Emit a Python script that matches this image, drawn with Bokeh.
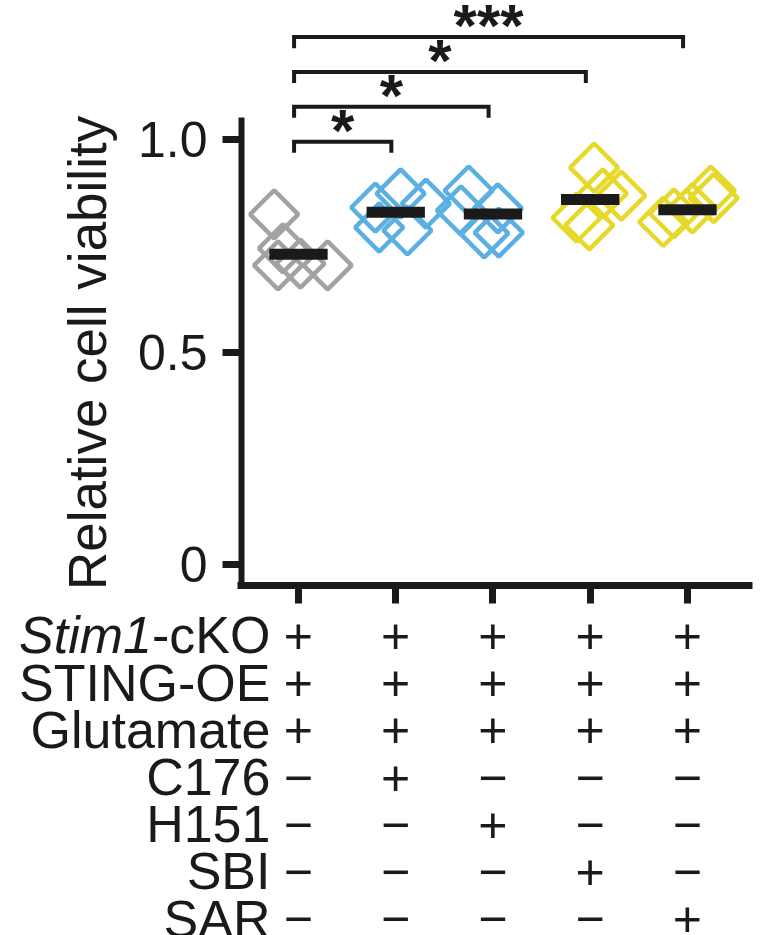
import math
from bokeh.plotting import figure
from bokeh.models import Range1d, LinearAxis, FixedTicker, ColumnDataSource
from bokeh.core.properties import value
from bokeh.embed import file_html
from bokeh.resources import INLINE

# ---------------- data ----------------
groups = [1, 2, 3, 4, 5]
group_colors = ["#a2a2a2", "#5cafe2", "#5cafe2", "#e6d92a", "#e6d92a"]

viab_g1 = [0.824, 0.744, 0.704, 0.708, 0.704]
viab_g2 = [0.840, 0.873, 0.849, 0.793, 0.786]
viab_g3 = [0.880, 0.833, 0.838, 0.781, 0.779]
viab_g4 = [0.934, 0.868, 0.816, 0.798, 0.873]
viab_g5 = [0.880, 0.862, 0.838, 0.826, 0.806]
group_values = [viab_g1, viab_g2, viab_g3, viab_g4, viab_g5]

jitter_g1 = [-0.25, -0.16, -0.21, 0.02, 0.30]
jitter_g2 = [-0.21, 0.05, 0.31, -0.17, 0.12]
jitter_g3 = [-0.25, -0.33, 0.05, 0.06, -0.09]
jitter_g4 = [0.04, 0.32, -0.14, -0.01, 0.13]
jitter_g5 = [0.24, 0.27, 0.05, -0.14, -0.25]
group_jitter = [jitter_g1, jitter_g2, jitter_g3, jitter_g4, jitter_g5]

group_means = [0.730, 0.829, 0.825, 0.859, 0.835]

y_ticks = [0, 0.5, 1.0]
y_tick_labels = ["0", "0.5", "1.0"]

sig_pairs = [(1, 2), (1, 3), (1, 4), (1, 5)]
sig_labels = ["*", "*", "*", "***"]

row_labels = ["Stim1-cKO", "STING-OE", "Glutamate", "C176", "H151", "SBI", "SAR"]
treatments = [
    ["+", "+", "+", "+", "+"],
    ["+", "+", "+", "+", "+"],
    ["+", "+", "+", "+", "+"],
    ["\u2212", "+", "\u2212", "\u2212", "\u2212"],
    ["\u2212", "\u2212", "+", "\u2212", "\u2212"],
    ["\u2212", "\u2212", "\u2212", "+", "\u2212"],
    ["\u2212", "\u2212", "\u2212", "\u2212", "+"],
]

# ---------------- layout ----------------
W, H = 767, 935
FONT = value("Liberation Sans")
INK = "#1a1a1a"

p = figure(width=W, height=H,
           x_range=Range1d(-2.064, 5.823), y_range=Range1d(-0.8729, 1.3271),
           x_axis_type=None, y_axis_type=None,
           output_backend="svg", toolbar_location=None,
           min_border=0, outline_line_color=None)
p.background_fill_color = "white"
p.border_fill_color = "white"

# y axis
yaxis = LinearAxis(fixed_location=0.414, bounds=(-0.056, 1.052),
                   ticker=FixedTicker(ticks=y_ticks),
                   major_label_overrides={t: s for t, s in zip(y_ticks, y_tick_labels)})
yaxis.axis_line_width = 6
yaxis.axis_line_color = INK
yaxis.major_tick_line_width = 7
yaxis.major_tick_line_color = INK
yaxis.major_tick_out = 19
yaxis.major_tick_in = 0
yaxis.minor_tick_line_color = None
yaxis.major_label_text_font = "Liberation Sans"
yaxis.major_label_text_font_size = "50px"
yaxis.major_label_text_color = INK
yaxis.major_label_standoff = 15
yaxis.axis_label = "Relative cell viability"
yaxis.axis_label_text_font = "Liberation Sans"
yaxis.axis_label_text_font_size = "53px"
yaxis.axis_label_text_font_style = "normal"
yaxis.axis_label_text_color = INK
yaxis.axis_label_standoff = 18
p.add_layout(yaxis, "left")

# x axis
xaxis = LinearAxis(fixed_location=-0.049, bounds=(0.3728, 5.668),
                   ticker=FixedTicker(ticks=groups))
xaxis.axis_line_width = 7
xaxis.axis_line_color = INK
xaxis.major_tick_line_width = 7
xaxis.major_tick_line_color = INK
xaxis.major_tick_out = 18
xaxis.major_tick_in = 0
xaxis.minor_tick_line_color = None
xaxis.major_label_text_alpha = 0
xaxis.major_label_text_font_size = "1px"
p.add_layout(xaxis, "below")

# points
xs, ys, cs = [], [], []
for g, vals, jit, col in zip(groups, group_values, group_jitter, group_colors):
    for v, j in zip(vals, jit):
        xs.append(g + j)
        ys.append(v)
        cs.append(col)
src = ColumnDataSource(dict(x=xs, y=ys, c=cs))
p.scatter("x", "y", source=src, marker="square", angle=math.pi / 4, size=34,
          fill_color=None, line_color="c", line_width=4.5)

# mean bars
p.rect(x=groups, y=group_means, width=0.6, height=11, height_units="screen",
       fill_color=INK, line_color=None)

# significance brackets
leg = 0.026
for i, ((a, b), lab) in enumerate(zip(sig_pairs, sig_labels)):
    lvl = 0.995 + i * 0.082
    x0, x1 = a - 0.045, b - 0.045
    p.line([x0, x0, x1, x1], [lvl - leg, lvl, lvl, lvl - leg],
           line_width=4, line_color=INK, line_join="miter")
    p.text(x=[(x0 + x1) / 2], y=[lvl + 0.027], text=[lab], text_align="center",
           text_baseline="alphabetic", text_font=FONT, text_font_size="60px",
           text_font_style="bold", text_color=INK)

# treatment table
row_y0, row_step = -0.167, 0.111
label_x = 0.712
for r, (lab, signs) in enumerate(zip(row_labels, treatments)):
    y = row_y0 - r * row_step
    if lab.startswith("Stim1"):
        p.text(x=[label_x], y=[y], text=["-cKO"], text_align="right",
               text_baseline="middle", text_font=FONT, text_font_size="52px",
               text_color=INK)
        p.text(x=[label_x - 1.218], y=[y], text=["Stim1"], text_align="right",
               text_baseline="middle", text_font=FONT, text_font_size="52px",
               text_font_style="italic", text_color=INK)
    else:
        p.text(x=[label_x], y=[y], text=[lab], text_align="right",
               text_baseline="middle", text_font=FONT, text_font_size="52px",
               text_color=INK)
    p.text(x=groups, y=[y] * len(groups), text=signs, text_align="center",
           text_baseline="middle", text_font=FONT, text_font_size="50px",
           text_color=INK)

open("out.html", "w").write(file_html(p, INLINE))
